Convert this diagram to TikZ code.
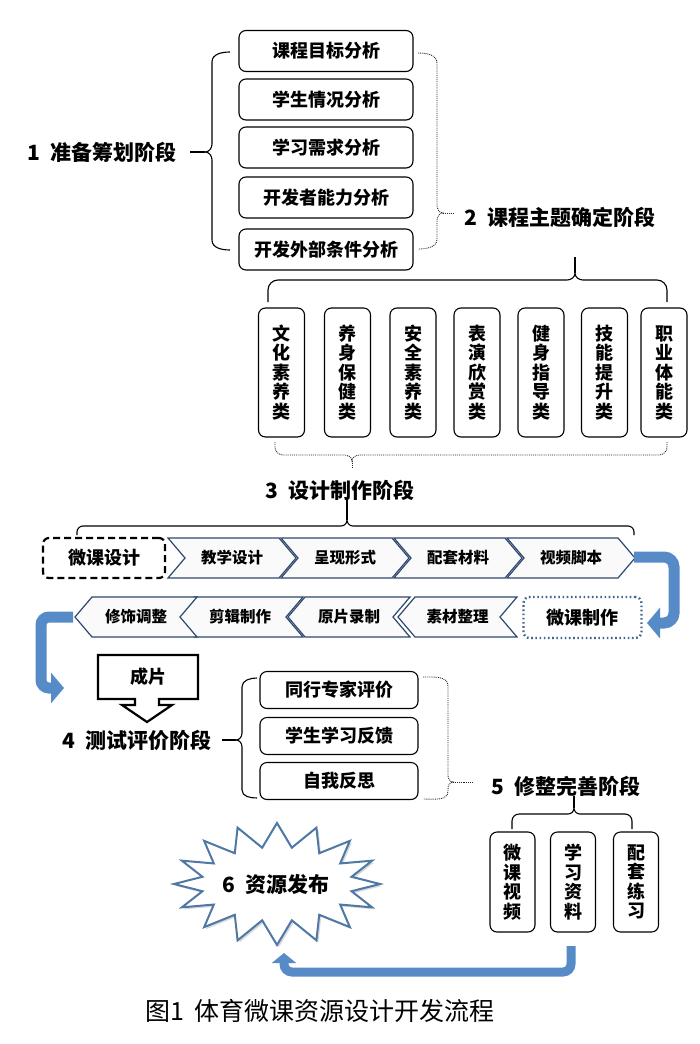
\documentclass[tikz,border=0pt]{standalone}
\usepackage{fontspec}
\setmainfont{Noto Sans CJK SC}
\usetikzlibrary{arrows.meta,shadows}
\definecolor{chevline}{RGB}{47,72,110}
\definecolor{arrowblue}{RGB}{86,139,199}
\definecolor{starline}{RGB}{79,120,165}
\definecolor{dotblue}{RGB}{63,102,145}
\begin{document}
\begin{tikzpicture}[x=1pt,y=-1pt,
  hbox/.style={draw, rounded corners=7pt, line width=1.1pt, minimum width=174pt, minimum height=41pt, inner sep=0pt, font=\bfseries\fontsize{18}{20}\selectfont},
  ebox/.style={hbox, minimum width=158pt, minimum height=37pt},
  vbox/.style={draw, rounded corners=7pt, line width=1.1pt, minimum width=46pt, minimum height=129pt, inner sep=0pt, align=center, font=\bfseries\fontsize{18}{19.5}\selectfont},
  sbox/.style={vbox, minimum width=45pt, minimum height=100pt},
  stitle/.style={font=\bfseries\fontsize{21}{24}\selectfont, inner sep=1pt},
  br/.style={line width=1.1pt},
  dbr/.style={line width=0.9pt, densely dotted, black!85},
  chev/.style={draw=chevline, line width=1.2pt, fill=black!2, line join=miter},
  chevtext/.style={font=\bfseries\fontsize{15.5}{18}\selectfont, inner sep=0pt},
  bluearrow/.style={draw=arrowblue, line width=11pt, rounded corners=10pt, -{Triangle[length=13pt,width=30pt]}},
]
\useasboundingbox (0,0) rectangle (700,1044);
\fill[white] (0,0) rectangle (700,1044);

% ---------- stage 1 ----------
\node[stitle] (t1) at (102,152) {1\hspace{0.5em}准备筹划阶段};
\node[hbox] (p1) at (326,51) {课程目标分析};
\node[hbox] (p2) at (326,99.5) {学生情况分析};
\node[hbox] (p3) at (326,147.5) {学习需求分析};
\node[hbox] (p4) at (326,197.5) {开发者能力分析};
\node[hbox] (p5) at (326,249.5) {开发外部条件分析};
\coordinate (c1) at (205,152);
\draw[br] (230,52) to[out=180,in=90] (212,62) -- (212,144) to[out=-90,in=0] (c1) to[out=0,in=90] (212,160) -- (212,240) to[out=-90,in=180] (230,250);
\draw[br] (190,152) -- (c1);
\coordinate (c2) at (443,213);
\draw[dbr] (418,53) to[out=0,in=90] (437,63) -- (437,205) to[out=-90,in=180] (c2) to[out=180,in=90] (437,221) -- (437,239) to[out=-90,in=0] (418,249);
\draw[dbr] (c2) -- (453,213);

% ---------- stage 2 ----------
\node[stitle] (t2) at (560,217) {2\hspace{0.5em}课程主题确定阶段};
\coordinate (c3) at (575,273);
\draw[br] (575,257) -- (c3);
\draw[br] (268,302) -- (268,290) to[out=90,in=180] (278,280) -- (567,280) to[out=0,in=-90] (c3) to[out=-90,in=180] (583,280) -- (657,280) to[out=0,in=90] (667,290) -- (667,302);
\node[vbox] (v1) at (281.5,372.5) {文\\化\\素\\养\\类};
\node[vbox] (v2) at (347.5,372.5) {养\\身\\保\\健\\类};
\node[vbox] (v3) at (413,372.5) {安\\全\\素\\养\\类};
\node[vbox] (v4) at (477,372.5) {表\\演\\欣\\赏\\类};
\node[vbox] (v5) at (541,372.5) {健\\身\\指\\导\\类};
\node[vbox] (v6) at (604.5,372.5) {技\\能\\提\\升\\类};
\node[vbox] (v7) at (664,372.5) {职\\业\\体\\能\\类};
\coordinate (c4) at (352,461);
\draw[dbr] (275,442) -- (275,447) to[out=-90,in=180] (283,455) -- (344,455) to[out=0,in=90] (c4) to[out=90,in=180] (360,455) -- (659,455) to[out=0,in=-90] (667,447) -- (667,442);
\draw[dbr] (c4) -- (352,467);

% ---------- stage 3 ----------
\node[stitle] (t3) at (340,490) {3\hspace{0.5em}设计制作阶段};
\coordinate (c5) at (347,520);
\draw[br] (347,499) -- (c5);
\draw[br] (77,535) -- (77,532) to[out=90,in=180] (83,526) -- (341,526) to[out=0,in=-90] (c5) to[out=-90,in=180] (353,526) -- (628,526) to[out=0,in=90] (634,532) -- (634,535);

\node[draw, line width=2.2pt, dash pattern=on 7pt off 4pt, rounded corners=6pt, minimum width=122pt, minimum height=40pt, font=\bfseries\fontsize{18}{20}\selectfont] (d1) at (104,558) {微课设计};
\foreach \L/\t/\n in {168/教学设计/a1, 281/呈现形式/a2, 394/配套材料/a3, 507/视频脚本/a4} {
  \draw[chev] (\L,538) -- (\L+111,538) -- (\L+128,558) -- (\L+111,578) -- (\L,578) -- (\L+17,558) -- cycle;
  \node[chevtext] (\n) at (\L+64,558) {\t};
}
\coordinate (a4tip) at (634,557);

\node[draw=dotblue, line width=2.4pt, dash pattern=on 1.6pt off 2.6pt, rounded corners=6pt, minimum width=118pt, minimum height=41pt, font=\bfseries\fontsize{18}{20}\selectfont] (m0) at (582.5,617.5) {微课制作};
\foreach \T/\R/\t/\n in {398/517/素材整理/b1, 288/410/原片录制/b2, 177/303/剪辑制作/b3, 75/197/修饰调整/b4} {
  \draw[chev] (\T,617) -- (\T+17,597) -- (\R,597) -- (\R-17,617) -- (\R,637) -- (\T+17,637) -- cycle;
  \node[chevtext] (\n) at ({(\T+\R)/2},617) {\t};
}
\coordinate (b4tip) at (73,617);

\draw[bluearrow] (a4tip) -- (674,557) -- (674,623) -- (647,623);
\draw[bluearrow, rounded corners=8pt] (b4tip) -- (41,617) -- (41,688) -- (64,688);

% ---------- finished film ----------
\draw[line width=2.2pt, line join=miter] (98,655) -- (198,655) -- (198,699) -- (159,699) -- (159,705) -- (172,705) -- (147,722) -- (122,705) -- (135,705) -- (135,699) -- (98,699) -- cycle;
\node[font=\bfseries\fontsize{18}{20}\selectfont] (cp) at (148,677) {成片};

% ---------- stage 4 ----------
\node[stitle] (t4) at (137,740) {4\hspace{0.5em}测试评价阶段};
\coordinate (c6) at (236,740);
\draw[br] (222,740) -- (c6);
\draw[br] (257,678) to[out=180,in=90] (242,687) -- (242,733) to[out=-90,in=0] (c6) to[out=0,in=90] (242,747) -- (242,790) to[out=-90,in=180] (257,798);
\node[ebox] (e1) at (339,690) {同行专家评价};
\node[ebox] (e2) at (339,736) {学生学习反馈};
\node[ebox] (e3) at (339,781) {自我反思};
\coordinate (c7) at (453,782);
\draw[dbr] (423,677) to[out=0,in=90] (448,686) -- (448,775) to[out=-90,in=180] (c7) to[out=180,in=90] (448,789) -- (448,791) to[out=-90,in=0] (423,799);
\draw[dbr] (c7) -- (473,782);

% ---------- stage 5 ----------
\node[stitle] (t5) at (566,786) {5\hspace{0.5em}修整完善阶段};
\coordinate (c8) at (574,808);
\draw[br] (574,796) -- (c8);
\draw[br] (512,829) -- (512,821) to[out=90,in=180] (519,814) -- (568,814) to[out=0,in=-90] (c8) to[out=-90,in=180] (580,814) -- (625,814) to[out=0,in=90] (632,821) -- (632,829);
\node[sbox] (s1) at (512.5,882) {微\\课\\视\\频};
\node[sbox] (s2) at (573,882) {学\\习\\资\\料};
\node[sbox] (s3) at (636,882) {配\\套\\练\\习};

% ---------- stage 6 ----------
\begin{scope}[shift={(277,884)}]
\draw[draw=starline, line width=2pt, fill=white, line join=miter,
      drop shadow={shadow xshift=2pt, shadow yshift=-2pt, opacity=0.3, fill=gray}]
  (103,0) foreach \i [evaluate=\i as \px using {(103-27*mod(\i,2))*cos(\i*11.25)}, evaluate=\i as \py using {(61-24*mod(\i,2))*sin(\i*11.25)}] in {1,...,31} { -- (\px,\py) } -- cycle;
\end{scope}
\node[stitle] (t6) at (276,884) {6\hspace{0.5em}资源发布};
\coordinate (s2out) at (571,946);
\draw[bluearrow, line width=9pt, rounded corners=8pt, -{Triangle[length=10pt,width=24pt]}] (s2out) -- (571,972) -- (284,972) -- (284,953);

% ---------- caption ----------
\node[font=\fontsize{25}{28}\selectfont, inner sep=0pt] (cap) at (320,1011) {图1\hspace{0.4em}体育微课资源设计开发流程};
\end{tikzpicture}
\end{document}
